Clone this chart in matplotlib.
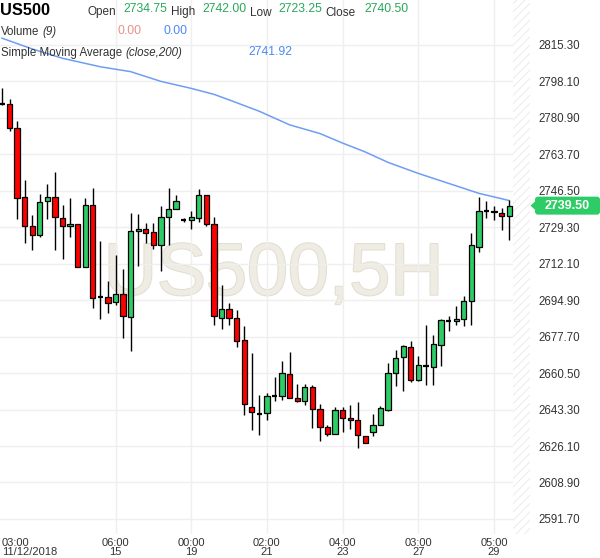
import numpy as np
import matplotlib
matplotlib.use('Agg')
import matplotlib.pyplot as plt
import matplotlib.patheffects as pe
from matplotlib.patches import FancyBboxPatch, Polygon
from matplotlib.transforms import IdentityTransform

plt.rcParams['font.family'] = ['Liberation Sans', 'DejaVu Sans']

# 5H candles
opens = [2787.5, 2787.5, 2776.0, 2743.5, 2730.0, 2725.5, 2741.5, 2743.5, 2733.6, 2729.7,
         2730.8, 2710.4, 2739.9, 2696.2, 2696.4, 2694.0, 2697.8, 2687.0, 2727.3, 2728.4,
         2727.0, 2720.7, 2734.1, 2737.9, 2732.5, 2732.5, 2733.6, 2744.6, 2730.8, 2686.5,
         2690.7, 2686.5, 2676.0, 2644.6, 2641.4, 2641.7, 2649.9, 2649.9, 2660.1, 2648.8,
         2647.2, 2654.0, 2643.6, 2635.1, 2631.8, 2643.1, 2639.4, 2638.4, 2630.7, 2632.8,
         2635.9, 2643.3, 2660.6, 2668.1, 2672.8, 2657.1, 2663.7, 2663.4, 2673.6, 2685.2,
         2684.9, 2686.0, 2694.4, 2720.0, 2737.2, 2737.2, 2736.0, 2734.75]
highs = [2794.9, 2789.7, 2779.2, 2751.7, 2734.9, 2744.9, 2749.6, 2755.3, 2739.8, 2743.0,
         2730.8, 2743.0, 2747.8, 2722.6, 2703.8, 2716.0, 2709.6, 2736.0, 2735.5, 2731.3,
         2731.3, 2739.1, 2747.8, 2744.6, 2733.5, 2736.8, 2747.3, 2744.6, 2734.1, 2702.2,
         2693.6, 2690.1, 2682.6, 2670.0, 2650.4, 2651.2, 2658.5, 2666.1, 2670.3, 2655.4,
         2655.4, 2655.1, 2645.7, 2635.9, 2644.6, 2644.6, 2645.3, 2646.9, 2630.7, 2641.4,
         2645.2, 2665.3, 2671.3, 2673.9, 2675.5, 2668.4, 2683.4, 2678.6, 2686.0, 2687.6,
         2692.0, 2696.7, 2726.6, 2743.8, 2741.5, 2739.1, 2738.3, 2742.00]
lows = [2787.0, 2774.9, 2733.2, 2721.8, 2718.4, 2724.5, 2733.2, 2718.7, 2714.5, 2724.5,
        2710.4, 2710.4, 2691.2, 2686.0, 2688.9, 2692.5, 2677.1, 2670.8, 2711.2, 2721.8,
        2719.2, 2708.5, 2720.7, 2737.9, 2731.6, 2728.4, 2731.6, 2729.7, 2683.0, 2681.3,
        2683.0, 2672.7, 2640.9, 2633.6, 2631.5, 2638.6, 2647.2, 2647.7, 2648.8, 2646.7,
        2645.3, 2634.7, 2628.7, 2631.0, 2631.8, 2632.8, 2633.9, 2625.2, 2627.6, 2630.7,
        2635.9, 2642.8, 2654.3, 2651.9, 2656.3, 2656.7, 2655.1, 2655.1, 2663.7, 2680.2,
        2683.4, 2682.6, 2683.4, 2717.4, 2733.6, 2732.5, 2727.8, 2723.25]
closes = [2787.5, 2776.3, 2743.0, 2729.7, 2725.5, 2741.2, 2743.5, 2734.1, 2729.7, 2731.0,
          2710.4, 2739.9, 2695.9, 2696.2, 2693.6, 2697.8, 2687.3, 2727.3, 2728.4, 2726.6,
          2720.7, 2734.1, 2737.9, 2741.6, 2732.5, 2734.1, 2744.6, 2730.8, 2687.6, 2690.7,
          2686.5, 2675.5, 2646.0, 2642.2, 2641.4, 2649.6, 2649.9, 2660.6, 2648.8, 2647.2,
          2654.0, 2643.6, 2635.1, 2631.8, 2643.1, 2639.4, 2638.4, 2631.2, 2627.6, 2635.9,
          2643.9, 2660.6, 2667.6, 2673.5, 2657.4, 2664.5, 2663.7, 2674.2, 2685.4, 2685.2,
          2686.0, 2694.4, 2720.7, 2736.8, 2737.2, 2736.3, 2734.7, 2739.50]

# SMA(200) read at some candles
sma_idx = [0, 4, 8, 13, 17, 21, 25, 28, 30, 34, 38, 42, 45, 48, 51, 55, 59, 63, 67]
sma_val = [2818.5, 2813.4, 2809.0, 2805.0, 2802.7, 2798.1, 2794.8, 2792.0, 2789.4, 2784.0,
           2777.6, 2773.5, 2769.0, 2764.8, 2759.9, 2754.7, 2750.0, 2745.3, 2741.9]

tick_pos = [0, 15, 25, 35, 45, 55, 65]
tick_labels = ['03:00\n11/12/2018', '06:00\n15', '00:00\n19', '02:00\n21',
               '04:00\n23', '03:00\n27', '05:00\n29']
price_ticks = [2591.70, 2608.90, 2626.10, 2643.30, 2660.50, 2677.70, 2694.90,
               2712.10, 2729.30, 2746.50, 2763.70, 2780.90, 2798.10, 2815.30]

GREEN = '#2ecc66'
RED = '#ff0000'
TXT = '#333333'
GRID = '#efefef'

W, H = 600, 558
fig = plt.figure(figsize=(6, 5.58), dpi=100)
ax = fig.add_axes([0, 24 / H, 530 / W, 534 / H])
ax.set_xlim(-0.26, 69.75)
ax.set_ylim(2584.6, 2836.5)
for s in ax.spines.values():
    s.set_visible(False)

# watermark
ax.text(35.9, 2697.5, 'US500,5H', ha='center', va='baseline', fontsize=53,
        color='#efece4', zorder=0.2,
        path_effects=[pe.Stroke(linewidth=1.5, foreground='#e2ded2'), pe.Normal()])

# grid
for p in price_ticks:
    ax.axhline(p, color=GRID, lw=1, zorder=0.5)
for t in tick_pos[1:]:
    ax.axvline(t, color=GRID, lw=1, zorder=0.5)

# hatched empty zone on the right
plt.rcParams['hatch.linewidth'] = 0.7
ax.axvspan(67.5, 69.75, facecolor='white', edgecolor='#ebebeb', hatch='////', lw=0, zorder=0.6)

# moving average
ax.plot(sma_idx, sma_val, color='#6e9ef2', lw=1.1, zorder=1.5)

# candles
x = np.arange(len(closes))
o = np.array(opens)
c = np.array(closes)
ax.vlines(x, lows, highs, color='black', lw=1, zorder=2)
body = o != c
cols = np.where(c > o, GREEN, RED)
ax.bar(x[body], np.abs(c - o)[body], bottom=np.minimum(o, c)[body], width=0.7,
       color=cols[body], edgecolor='black', linewidth=0.9, zorder=3)
ax.hlines(c[~body], x[~body] - 0.36, x[~body] + 0.36, color='black', lw=1.6, zorder=3)

# axes ticks
ax.set_xticks(tick_pos)
ax.set_xticklabels(tick_labels, fontsize=8, color=TXT, linespacing=0.85)
ax.get_xticklabels()[0].set_ha('left')
ax.yaxis.tick_right()
ax.set_yticks(price_ticks)
ax.set_yticklabels([f'{p:.2f}' for p in price_ticks], fontsize=8.3, color=TXT)
ax.tick_params(axis='both', length=0)
ax.tick_params(axis='y', pad=6)
ax.tick_params(axis='x', pad=3)

# last price tag
fig.canvas.draw()
renderer = fig.canvas.get_renderer()
yd = ax.transData.transform((0, closes[-1]))[1]
tag = FancyBboxPatch((535, yd - 9), 65, 18, boxstyle='round,pad=0,rounding_size=3',
                     transform=IdentityTransform(), facecolor=GREEN, edgecolor='none')
fig.add_artist(tag)
fig.add_artist(Polygon([(530.5, yd), (536, yd + 5), (536, yd - 5)], closed=True,
                       transform=IdentityTransform(), facecolor=GREEN, edgecolor='none'))
fig.text(567, yd, f'{closes[-1]:.2f}', transform=IdentityTransform(), ha='center',
         va='center', fontsize=9, fontweight='bold', color='white')


# header texts
def put(px, py, s, **kw):
    return fig.text(px / W, 1 - py / H, s, va='baseline', **kw)


def put_after(t, py, s, gap=3, **kw):
    x1 = t.get_window_extent(renderer).x1
    return put(x1 + gap, py, s, **kw)


put(0, 15, 'US500', fontsize=11.8, fontweight='bold', color='black')
ohlc_names = ['Open', 'High', 'Low', 'Close']
ohlc_vals = [2734.75, 2742.00, 2723.25, 2740.50]
name_x = [88, 171, 250, 325]
val_x = [123, 202, 278, 364]
for n, v, nx, vx in zip(ohlc_names, ohlc_vals, name_x, val_x):
    put(nx, 15.5, n, fontsize=8.5, color=TXT)
    put(vx, 12, f'{v:.2f}', fontsize=8.8, color='#27a85a')

t = put(1, 35, 'Volume', fontsize=8.3, color=TXT)
put_after(t, 35, '(9)', fontsize=8.3, color=TXT, style='italic')
put(117, 34, '0.00', fontsize=8.8, color='#e8918a')
put(163, 34, '0.00', fontsize=8.8, color='#4a8af4')
t = put(1, 56, 'Simple Moving Average', fontsize=8.3, color=TXT)
put_after(t, 56, '(close,200)', fontsize=8.3, color=TXT, style='italic')
put(248, 55, '2741.92', fontsize=8.8, color='#4a8af4')

fig.savefig('out.png', dpi=100)
